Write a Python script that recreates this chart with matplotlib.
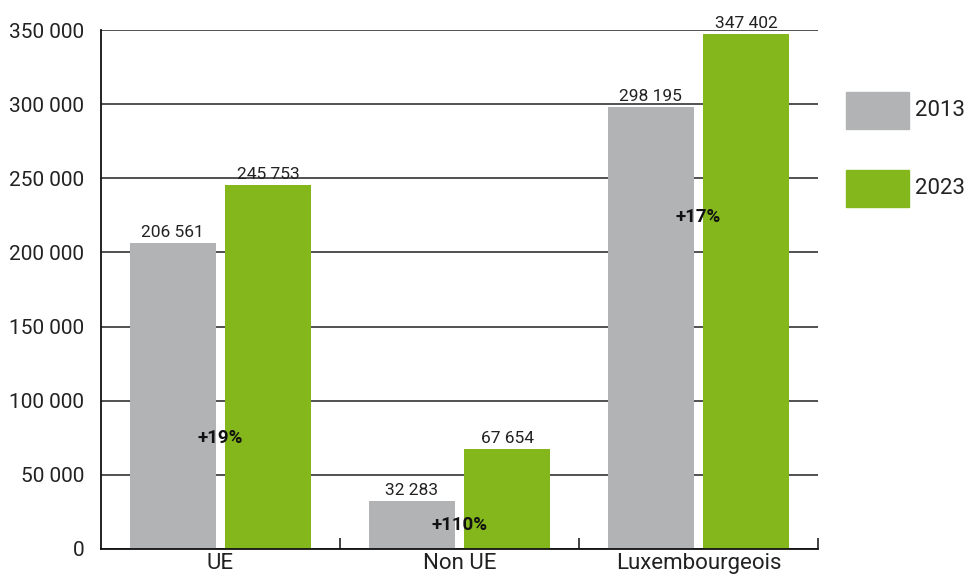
import matplotlib
matplotlib.use("Agg")
import matplotlib.pyplot as plt
from matplotlib.patches import Rectangle
import numpy as np

categories = ["UE", "Non UE", "Luxembourgeois"]
series_names = ["2013", "2023"]
values_2013 = [206561, 32283, 298195]
values_2023 = [245753, 67654, 347402]
pct_labels = ["+19%", "+110%", "+17%"]
pct_label_y = [75000, 16000, 224000]
yticks = [0, 50000, 100000, 150000, 200000, 250000, 300000, 350000]

colors = ["#B2B3B5", "#84B71C"]

plt.rcParams['font.family'] = ['Roboto', 'DejaVu Sans']

fig = plt.figure(figsize=(9.66, 5.74), dpi=100)
ax = fig.add_axes([101/966, 25/574, (818-101)/966, (549-30)/574])

x = np.arange(len(categories))
w = 0.36
off = 0.2
b1 = ax.bar(x - off, values_2013, w, color=colors[0], zorder=3)
b2 = ax.bar(x + off, values_2023, w, color=colors[1], zorder=3)

def fmt(v):
    return f"{v:,}".replace(",", " ")

for bars, vals in ((b1, values_2013), (b2, values_2023)):
    for r, v in zip(bars, vals):
        ax.annotate(fmt(v), (r.get_x() + r.get_width()/2, v), xytext=(0, 2),
                    textcoords="offset points", ha="center", va="bottom",
                    fontsize=12.5, color="#222222", zorder=5)

for xi, lab, yy in zip(x, pct_labels, pct_label_y):
    ax.text(xi, yy, lab, ha="center", va="center", fontsize=13.5, fontweight="bold",
            color="#111111", zorder=6)

ax.set_xlim(-0.5, 2.5)
ax.set_ylim(0, 350000)
ax.set_yticks(yticks)
ax.set_yticklabels([fmt(t) for t in yticks], fontsize=15, color="#222222")
ax.tick_params(axis="y", length=0, pad=12)
ax.set_xticks(x)
ax.set_xticklabels(categories, fontsize=16, color="#222222")
ax.tick_params(axis="x", length=0, pad=3)
ax.set_xticks([0.5, 1.5, 2.5], minor=True)
ax.tick_params(axis="x", which="minor", direction="in", length=8, width=1.2, color="#222222")

ax.grid(axis="y", color="#333333", lw=1.2, zorder=0)
for s in ["top", "right"]:
    ax.spines[s].set_visible(False)
for s in ["left", "bottom"]:
    ax.spines[s].set_color("#111111")
    ax.spines[s].set_linewidth(1.3)
    ax.spines[s].set_zorder(4)

# legend
leg_y = [574-129, 574-207]
for name, c, yb in zip(series_names, colors, leg_y):
    fig.patches.append(Rectangle((846/966, yb/574), 63/966, 37/574, color=c,
                                 transform=fig.transFigure, figure=fig))
    fig.text(915/966, (yb + 18.5)/574, name, fontsize=16, va="center", ha="left", color="#222222")

fig.savefig("out.png", dpi=100)
